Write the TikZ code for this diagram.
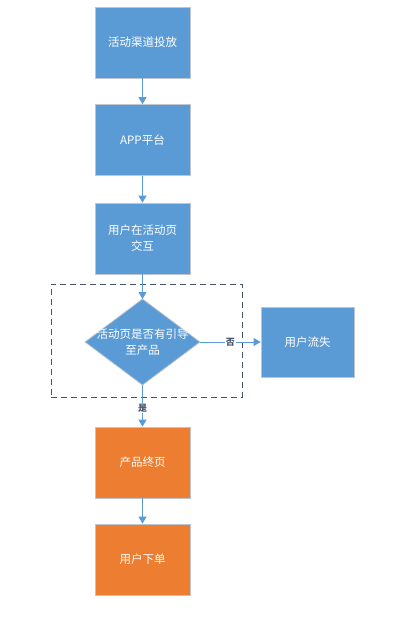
\documentclass[tikz,border=0pt]{standalone}
\usepackage{fontspec}
\setmainfont{Noto Sans CJK SC}
\usetikzlibrary{shapes.geometric,arrows.meta}
\definecolor{boxblue}{HTML}{5B9BD5}
\definecolor{boxorange}{HTML}{ED7D31}
\definecolor{edgegray}{HTML}{BFC5CC}
\definecolor{labelc}{HTML}{44546A}
\begin{document}
\begin{tikzpicture}[x=1pt,y=-1pt,
  txt/.style={font=\fontsize{11.5}{16}\selectfont},
  box/.style={draw=edgegray,line width=0.8pt,fill=boxblue,text=white,minimum width=95pt,minimum height=71pt,inner sep=0pt,align=center,txt},
  obox/.style={box,fill=boxorange},
  conn/.style={draw=boxblue,line width=1pt,-{Triangle[width=8pt,length=7pt]}},
  lab/.style={text=labelc,font=\fontsize{9}{10}\selectfont\bfseries,inner sep=1pt}
]
\useasboundingbox (0,0) rectangle (404,629);
\fill[white] (0,0) rectangle (404,629);
\node[box] (a) at (142.5,42.5) {活动渠道投放};
\node[box] (b) at (142.5,140) {APP平台};
\node[box] (c) at (142.5,238.5) {用户在活动页\\交互};
\node[draw=labelc,dash pattern=on 6pt off 4pt,line width=0.8pt,minimum width=191pt,minimum height=113pt,inner sep=0pt] (frame) at (146.5,340.5) {};
\path[draw=edgegray,line width=0.8pt,fill=boxblue] (142.5,299) coordinate (dt) -- (200,342) coordinate (dr) -- (142.5,385) coordinate (db) -- (85,342) coordinate (dl) -- cycle;
\node[text=white,align=center,txt,inner sep=0pt] (d) at (142.5,342) {活动页是否有引导\\至产品};
\node[box,minimum width=93pt,minimum height=70pt] (e) at (307.5,342) {用户流失};
\node[obox] (f) at (142.5,462.5) {产品终页};
\node[obox] (g) at (142.5,559.5) {用户下单};
\draw[conn] (a) -- (b);
\draw[conn] (b) -- (c);
\draw[conn] (c) -- (dt);
\draw[conn] (dr) -- node[lab,fill=white,pos=0.5] {否} (e);
\draw[conn] (db) -- node[lab,fill=white,pos=0.55] {是} (f);
\draw[conn] (f) -- (g);
\end{tikzpicture}
\end{document}
